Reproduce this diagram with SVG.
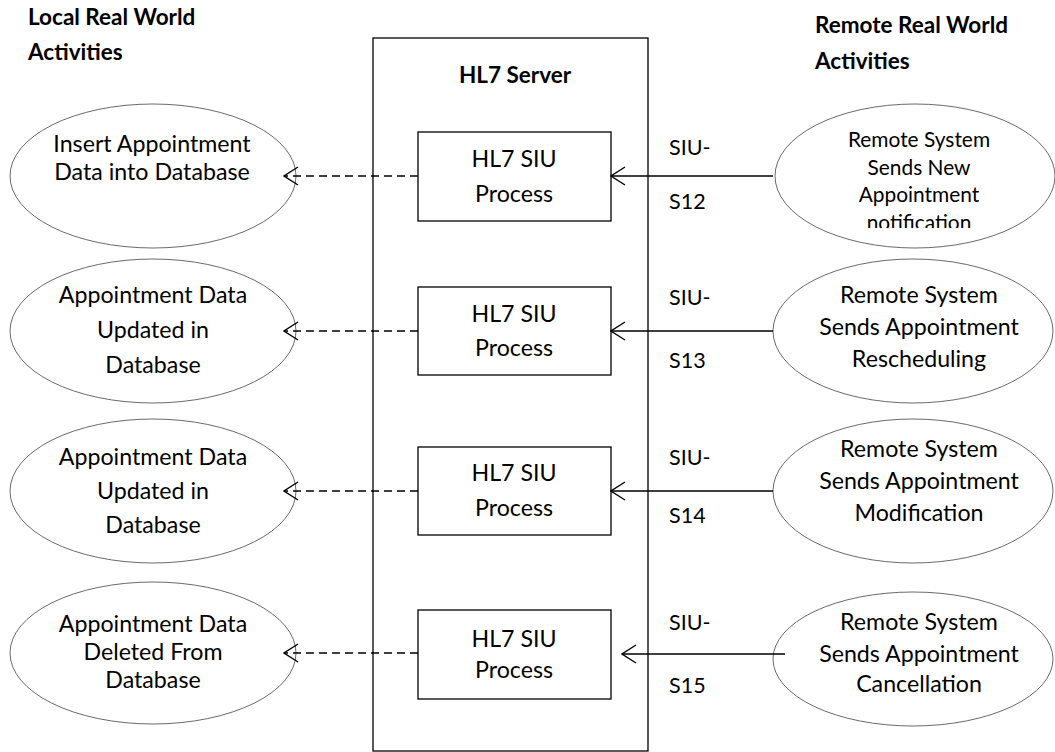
<svg xmlns="http://www.w3.org/2000/svg" width="1055" height="752" viewBox="0 0 1055 752">
  <defs>
    <style>
      text { font-family: Lato, "Open Sans", "Liberation Sans", sans-serif; fill: #000; }
      .hdr { font-weight: bold; font-size: 22.5px; }
      .lbl { font-size: 23.2px; text-anchor: middle; }
      .sm { font-size: 20.9px; text-anchor: middle; }
      .code { font-size: 21.5px; }
      .act { fill: #fff; stroke: #444; stroke-width: 0.8; }
      .proc { fill: #fff; stroke: #000; stroke-width: 1.3; }
      .server { fill: #fff; stroke: #000; stroke-width: 1.3; }
      .msg { fill: none; stroke: #000; stroke-width: 1.3; }
      .dep { fill: none; stroke: #000; stroke-width: 1.3; stroke-dasharray: 8 5; }
    </style>
    <!-- open V arrowhead, tip at the end of the line -->
    <marker id="open" viewBox="0 0 16 20" refX="15" refY="10" markerWidth="16" markerHeight="20" markerUnits="userSpaceOnUse" orient="auto">
      <path d="M1 1 L15 10 L1 19" fill="none" stroke="#000" stroke-width="1.4"/>
    </marker>
    <clipPath id="clip-r1">
      <rect x="760" y="100" width="295" height="128"/>
    </clipPath>
  </defs>

  <!-- column headings -->
  <g id="heading-local">
    <text class="hdr" x="28" y="25">Local Real World</text>
    <text class="hdr" x="28" y="60">Activities</text>
  </g>
  <g id="heading-remote">
    <text class="hdr" x="815" y="33">Remote Real World</text>
    <text class="hdr" x="815" y="69">Activities</text>
  </g>

  <!-- server container -->
  <g id="hl7-server">
    <rect class="server" x="373" y="38" width="275" height="713"/>
    <text class="hdr" x="515" y="83" text-anchor="middle">HL7 Server</text>
  </g>

  <!-- local activities -->
  <g id="local-insert">
    <ellipse class="act" cx="153" cy="176" rx="143" ry="72"/>
    <text class="lbl" x="152" y="152">Insert Appointment</text>
    <text class="lbl" x="152" y="180">Data into Database</text>
  </g>
  <g id="local-update-1">
    <ellipse class="act" cx="153" cy="331" rx="143" ry="72"/>
    <text class="lbl" x="153" y="303">Appointment Data</text>
    <text class="lbl" x="153" y="338">Updated in</text>
    <text class="lbl" x="153" y="373">Database</text>
  </g>
  <g id="local-update-2">
    <ellipse class="act" cx="153" cy="491" rx="143" ry="72"/>
    <text class="lbl" x="153" y="465">Appointment Data</text>
    <text class="lbl" x="153" y="499">Updated in</text>
    <text class="lbl" x="153" y="533">Database</text>
  </g>
  <g id="local-delete">
    <ellipse class="act" cx="153" cy="653" rx="143" ry="71"/>
    <text class="lbl" x="153" y="632">Appointment Data</text>
    <text class="lbl" x="153" y="660">Deleted From</text>
    <text class="lbl" x="153" y="688">Database</text>
  </g>

  <!-- SIU processes -->
  <g id="process-s12">
    <rect class="proc" x="418" y="132" width="193" height="89"/>
    <text class="lbl" x="514" y="167">HL7 SIU</text>
    <text class="lbl" x="514" y="202">Process</text>
  </g>
  <g id="process-s13">
    <rect class="proc" x="418" y="287" width="193" height="88"/>
    <text class="lbl" x="514" y="322">HL7 SIU</text>
    <text class="lbl" x="514" y="356">Process</text>
  </g>
  <g id="process-s14">
    <rect class="proc" x="418" y="447" width="193" height="88"/>
    <text class="lbl" x="514" y="481">HL7 SIU</text>
    <text class="lbl" x="514" y="516">Process</text>
  </g>
  <g id="process-s15">
    <rect class="proc" x="418" y="610" width="193" height="89"/>
    <text class="lbl" x="514" y="647">HL7 SIU</text>
    <text class="lbl" x="514" y="678">Process</text>
  </g>

  <!-- remote activities -->
  <g id="remote-new">
    <ellipse class="act" cx="915" cy="176" rx="140" ry="72"/>
    <g clip-path="url(#clip-r1)">
      <text class="sm" x="919" y="147">Remote System</text>
      <text class="sm" x="919" y="175">Sends New</text>
      <text class="sm" x="919" y="202">Appointment</text>
      <text class="sm" x="919" y="230">notification</text>
    </g>
  </g>
  <g id="remote-reschedule">
    <ellipse class="act" cx="913" cy="331" rx="140" ry="72"/>
    <text class="lbl" x="919" y="303">Remote System</text>
    <text class="lbl" x="919" y="335">Sends Appointment</text>
    <text class="lbl" x="919" y="367">Rescheduling</text>
  </g>
  <g id="remote-modify">
    <ellipse class="act" cx="913" cy="491" rx="140" ry="72"/>
    <text class="lbl" x="919" y="457">Remote System</text>
    <text class="lbl" x="919" y="489">Sends Appointment</text>
    <text class="lbl" x="919" y="521">Modification</text>
  </g>
  <g id="remote-cancel">
    <ellipse class="act" cx="913" cy="659" rx="140" ry="67"/>
    <text class="lbl" x="919" y="630">Remote System</text>
    <text class="lbl" x="919" y="662">Sends Appointment</text>
    <text class="lbl" x="919" y="692">Cancellation</text>
  </g>

  <!-- connectors: incoming messages (solid) and database effects (dashed) -->
  <g id="connectors">
    <line class="msg" x1="773" y1="176" x2="611" y2="176" marker-end="url(#open)"/>
    <line class="msg" x1="773" y1="331" x2="611" y2="331" marker-end="url(#open)"/>
    <line class="msg" x1="773" y1="491" x2="611" y2="491" marker-end="url(#open)"/>
    <line class="msg" x1="785" y1="654" x2="622" y2="654" marker-end="url(#open)"/>

    <line class="dep" x1="418" y1="176" x2="284" y2="176" marker-end="url(#open)"/>
    <line class="dep" x1="418" y1="331" x2="284" y2="331" marker-end="url(#open)"/>
    <line class="dep" x1="418" y1="491" x2="284" y2="491" marker-end="url(#open)"/>
    <line class="dep" x1="418" y1="653" x2="284" y2="653" marker-end="url(#open)"/>

    <text class="code" x="669" y="155">SIU-</text>
    <text class="code" x="669" y="209">S12</text>
    <text class="code" x="669" y="305">SIU-</text>
    <text class="code" x="669" y="368">S13</text>
    <text class="code" x="669" y="465">SIU-</text>
    <text class="code" x="669" y="523">S14</text>
    <text class="code" x="669" y="630">SIU-</text>
    <text class="code" x="669" y="693">S15</text>
  </g>
</svg>
